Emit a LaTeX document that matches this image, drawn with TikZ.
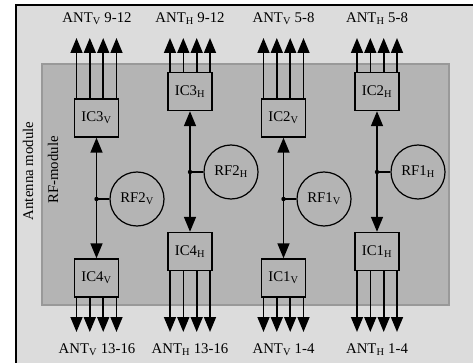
\documentclass[tikz,border=0pt]{standalone}
\usepackage{fontspec}
\setmainfont{Liberation Serif}
\usetikzlibrary{arrows.meta,calc}
\definecolor{antA}{HTML}{DCDCDC}
\definecolor{rfB}{HTML}{B4B4B4}
\definecolor{rfEdge}{HTML}{999999}
\tikzset{
  icbox/.style={draw,line width=1.4pt,minimum width=44pt,minimum height=38pt,inner sep=0pt},
  rfcirc/.style={draw,circle,line width=1.2pt,minimum size=54pt,inner sep=0pt},
  link/.style={line width=1.6pt},
}
\begin{document}
\begin{tikzpicture}[x=1pt,y=-1pt,>={Triangle[width=12pt,length=15pt]},font=\fontsize{14.8}{16}\selectfont]
\useasboundingbox (0,0) rectangle (473,363);
\draw[fill=antA,line width=1.4pt] (16,5) rectangle (480,370);
\draw[fill=rfB,draw=rfEdge,line width=1.3pt] (42,64) rectangle (449,305);
\node[rotate=90] (antmod) at (28,171) {Antenna module};
\node[rotate=90] (rfmod) at (53,170) {RF-module};
% IC blocks
\node[icbox] (ic3v) at (96.5,118) {IC3\textsubscript{V}};
\node[icbox] (ic4v) at (96.5,278) {IC4\textsubscript{V}};
\node[icbox] (ic3h) at (190,91.5) {IC3\textsubscript{H}};
\node[icbox] (ic4h) at (190,251.5) {IC4\textsubscript{H}};
\node[icbox] (ic2v) at (283.5,118) {IC2\textsubscript{V}};
\node[icbox] (ic1v) at (283.5,278) {IC1\textsubscript{V}};
\node[icbox] (ic2h) at (377,91.5) {IC2\textsubscript{H}};
\node[icbox] (ic1h) at (377,251.5) {IC1\textsubscript{H}};
% RF circles
\node[rfcirc] (rf2v) at (137,199) {RF2\textsubscript{V}};
\node[rfcirc] (rf2h) at (231,172) {RF2\textsubscript{H}};
\node[rfcirc] (rf1v) at (324,199) {RF1\textsubscript{V}};
\node[rfcirc] (rf1h) at (418,172) {RF1\textsubscript{H}};
% antenna labels
\node (ant912v) at (97,19) {ANT\textsubscript{V} 9-12};
\node (ant912h) at (190,19) {ANT\textsubscript{H} 9-12};
\node (ant58v) at (283.5,19) {ANT\textsubscript{V} 5-8};
\node (ant58h) at (377,19) {ANT\textsubscript{H} 5-8};
\node (ant1316v) at (97,350) {ANT\textsubscript{V} 13-16};
\node (ant1316h) at (190,350) {ANT\textsubscript{H} 13-16};
\node (ant14v) at (283.5,350) {ANT\textsubscript{V} 1-4};
\node (ant14h) at (377,350) {ANT\textsubscript{H} 1-4};
\coordinate (top) at (0,38);
\coordinate (bot) at (0,332);
% antenna feeds
\foreach \ic in {ic3v,ic3h,ic2v,ic2h}
  \foreach \dx in {-20,-6.7,6.7,20}
    \draw[link,->] ($(\ic.north)+(\dx,0)$) -- ($(\ic.north |- top)+(\dx,0)$);
\foreach \ic in {ic4v,ic4h,ic1v,ic1h}
  \foreach \dx in {-20,-6.7,6.7,20}
    \draw[link,->] ($(\ic.south)+(\dx,0)$) -- ($(\ic.south |- bot)+(\dx,0)$);
% RF links
\draw[link,<->] (ic3v) -- (ic4v);
\draw[link,<->] (ic3h) -- (ic4h);
\draw[link,<->] (ic2v) -- (ic1v);
\draw[link,<->] (ic2h) -- (ic1h);
\coordinate (j2v) at (rf2v -| ic3v);
\coordinate (j2h) at (rf2h -| ic3h);
\coordinate (j1v) at (rf1v -| ic2v);
\coordinate (j1h) at (rf1h -| ic2h);
\draw[link] (rf2v) -- (j2v);
\draw[link] (rf2h) -- (j2h);
\draw[link] (rf1v) -- (j1v);
\draw[link] (rf1h) -- (j1h);
\fill (j2v) circle (2.2pt) (j2h) circle (2.2pt) (j1v) circle (2.2pt) (j1h) circle (2.2pt);
\end{tikzpicture}
\end{document}
